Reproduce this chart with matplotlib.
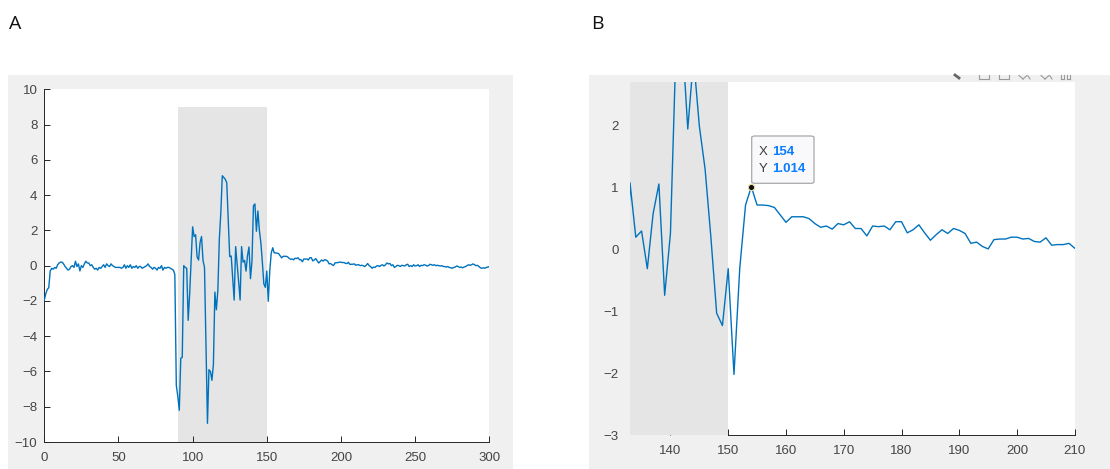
import matplotlib
matplotlib.use("Agg")
import matplotlib.pyplot as plt
from matplotlib.patches import Rectangle, FancyBboxPatch
from matplotlib.lines import Line2D

# ---------------- data ----------------
x_vals = list(range(0, 301))
y_vals = [
    -1.95, -1.6, -1.35, -1.25, -0.3, -0.15, -0.2, -0.1, -0.15, 0.05,
    0.15, 0.2, 0.2, 0.1, -0.05, -0.15, -0.25, -0.2, -0.05, 0.0,
    -0.1, 0.25, -0.05, 0.1, -0.3, 0.0, -0.1, 0.1, 0.25, 0.15,
    0.15, 0.0, 0.05, -0.1, -0.2, -0.15, -0.25, -0.1, -0.15, -0.05,
    0.05, -0.1, 0.1, 0.0, -0.05, 0.1, 0.0, -0.05, -0.1, -0.1,
    -0.1, -0.1, -0.15, -0.1, 0.05, -0.15, 0.0, -0.1, 0.05, -0.15,
    -0.05, -0.1, 0.0, -0.15, -0.05, -0.05, -0.15, -0.1, -0.05, 0.0,
    0.1, -0.05, -0.1, -0.2, -0.1, -0.15, -0.25, -0.1, -0.15, 0.0,
    -0.25, -0.1, -0.15, -0.1, -0.1, -0.15, -0.2, -0.25, -0.5, -6.8,
    -7.4, -8.2, -5.25, -5.2, 0.0, -0.1, -0.15, -3.1, -1.6, 0.3,
    2.2, 1.65, 1.75, 0.5, 0.32, 1.3, 1.65, 0.3, -0.1, -4.5,
    -8.94, -5.9, -6.0, -6.5, -5.6, -1.5, -2.5, -1.4, 1.5, 3.0,
    5.1, 5.0, 4.9, 4.7, 2.6, 0.51, 0.55, -0.7, -1.95, 1.08,
    0.1, -0.9, -1.95, 1.08, 0.2, 0.3, -0.31, 0.58, 1.06, -0.74,
    0.26, 3.4, 3.5, 1.95, 3.1, 2.0, 1.3, 0.2, -1.03, -1.23,
    -0.31, -2.02, -0.3, 0.72, 1.014, 0.72, 0.72, 0.71, 0.68, 0.56,
    0.44, 0.53, 0.53, 0.53, 0.50, 0.42, 0.36, 0.38, 0.33, 0.42,
    0.40, 0.45, 0.34, 0.34, 0.22, 0.38, 0.37, 0.38, 0.32, 0.45,
    0.45, 0.27, 0.32, 0.40, 0.27, 0.15, 0.24, 0.32, 0.26, 0.34,
    0.31, 0.26, 0.10, 0.12, 0.05, 0.01, 0.16, 0.17, 0.17, 0.20,
    0.20, 0.17, 0.18, 0.13, 0.12, 0.19, 0.07, 0.08, 0.08, 0.10,
    0.02, 0.05, 0.05, 0.0, 0.02, 0.0, -0.05, 0.02, 0.12, 0.0,
    -0.05, -0.15, -0.08, -0.1, -0.02, 0.0, -0.05, 0.02, 0.05, -0.02,
    0.05, 0.15, 0.1, 0.12, 0.0, 0.05, -0.1, -0.05, 0.02, 0.0,
    -0.05, 0.02, 0.0, -0.02, 0.05, 0.08, -0.05, 0.0, -0.05, 0.05,
    -0.02, 0.0, 0.05, -0.05, 0.02, 0.0, 0.05, 0.03, -0.02, 0.0,
    0.08, 0.05, 0.02, 0.05, 0.0, 0.02, 0.0, -0.02, 0.0, -0.05,
    -0.05, -0.08, -0.05, -0.1, -0.12, -0.15, -0.1, -0.08, -0.02, -0.05,
    -0.1, -0.08, -0.12, -0.08, -0.05, 0.0, 0.05, 0.02, 0.05, 0.1,
    0.05, 0.0, 0.02, -0.05, -0.12, -0.15, -0.12, -0.15, -0.1, -0.08,
    -0.05,
]
shade_x = [90, 150]
shade_y = [-10, 9]
tip_x = 154
tip_y = 1.014
panel_labels = ["A", "B"]
xticks_A = [0, 50, 100, 150, 200, 250, 300]
yticks_A = [-10, -8, -6, -4, -2, 0, 2, 4, 6, 8, 10]
xticks_B = [140, 150, 160, 170, 180, 190, 200, 210]
yticks_B = [-3, -2, -1, 0, 1, 2]

# ---------------- style ----------------
W, H = 1110, 469
LINE = "#0072BD"
FIGGREY = "#f0f0f0"
SHADE = "#e5e5e5"
AXC = "#262626"
TIPBLUE = "#0a7cff"
plt.rcParams["font.family"] = ["Liberation Sans", "DejaVu Sans"]

fig = plt.figure(figsize=(W / 100, H / 100), dpi=100, facecolor="white")

def fx(px):
    return px / W

def fy(py):
    return 1 - py / H

# grey panel backgrounds (behind the axes)
fig.patches.append(Rectangle((fx(8), 0), fx(513) - fx(8), fy(75), transform=fig.transFigure,
                             facecolor=FIGGREY, edgecolor="none", zorder=-5))
fig.patches.append(Rectangle((fx(589), 0), 1 - fx(589), fy(75), transform=fig.transFigure,
                             facecolor=FIGGREY, edgecolor="none", zorder=-5))

def style_axes(ax):
    ax.set_facecolor("white")
    for s in ["top", "right"]:
        ax.spines[s].set_visible(False)
    for s in ["left", "bottom"]:
        ax.spines[s].set_color(AXC)
        ax.spines[s].set_linewidth(0.7)
    ax.tick_params(direction="in", length=4, width=0.7, colors=AXC, labelsize=9.5,
                   labelcolor="#454545")
    ax.tick_params(axis="x", pad=7)
    ax.tick_params(axis="y", pad=5)

# ---------------- Panel A ----------------
axA = fig.add_axes([fx(44.3), fy(442), fx(489.3) - fx(44.3), fy(89.3) - fy(442)])
style_axes(axA)
axA.fill_between(shade_x, shade_y[0], shade_y[1], color=SHADE, linewidth=0, zorder=1)
axA.plot(x_vals, y_vals, color=LINE, linewidth=1.0, zorder=3)
axA.set_xlim(0, 300)
axA.set_ylim(-10, 10)
axA.set_xticks(xticks_A)
axA.set_yticks(yticks_A)
axA.set_axisbelow(False)

# ---------------- Panel B ----------------
axB = fig.add_axes([fx(630), fy(435), fx(1075) - fx(630), fy(82) - fy(435)])
style_axes(axB)
axB.fill_between(shade_x, shade_y[0], shade_y[1], color=SHADE, linewidth=0, zorder=2.6)
axB.plot(x_vals, y_vals, color=LINE, linewidth=1.0, zorder=3)
axB.set_xlim(133, 210.03)
axB.set_ylim(-3, 2.71)
axB.set_xticks(xticks_B)
axB.set_yticks(yticks_B)
axB.spines["left"].set_visible(False)
axB.spines["bottom"].set_bounds(150, 210.03)
axB.tick_params(axis="y", length=0, pad=8)
axB.plot([tip_x], [tip_y], "o", ms=4.5, mfc="#111111", mec="#e8e0a0", mew=0.8, zorder=5,
         clip_on=False)

# data tip box
box = FancyBboxPatch((fx(751.7), fy(183.3)), fx(814) - fx(751.7), fy(136) - fy(183.3),
                     boxstyle="round,pad=0,rounding_size=0.003", transform=fig.transFigure,
                     facecolor="#f9f9fc", edgecolor="#a8a8a8", linewidth=0.9, zorder=10)
fig.patches.append(box)
fig.text(fx(758.5), fy(152), "X", fontsize=9.5, color="#3c3c3c", va="center", ha="left", zorder=11)
fig.text(fx(772.5), fy(152), str(tip_x), fontsize=9.5, color=TIPBLUE, va="center", ha="left",
         fontweight="bold", zorder=11)
fig.text(fx(758.5), fy(169.5), "Y", fontsize=9.5, color="#3c3c3c", va="center", ha="left", zorder=11)
fig.text(fx(772.5), fy(169.5), f"{tip_y:.3f}", fontsize=9.5, color=TIPBLUE, va="center", ha="left",
         fontweight="bold", zorder=11)

# partial toolbar icons peeking at the top of panel B
icon_col = "#9a9a9a"
def seg(x0, y0, x1, y1, lw=0.8, c=icon_col):
    fig.lines.append(Line2D([fx(x0), fx(x1)], [fy(y0), fy(y1)], transform=fig.transFigure,
                            color=c, linewidth=lw, zorder=5))
seg(955, 75, 959, 78, lw=2.0, c="#666666")
for x0 in [979, 999]:
    seg(x0, 75, x0, 79); seg(x0 + 10, 75, x0 + 10, 79); seg(x0, 79, x0 + 10, 79)
for x0 in [1019, 1041]:
    seg(x0, 75.5, x0 + 4, 79); seg(x0 + 4, 79, x0 + 8, 75.5); seg(x0 + 9, 76, x0 + 11, 79)
for x0 in [1061, 1067]:
    seg(x0, 75, x0, 79); seg(x0 + 3, 75, x0 + 3, 79); seg(x0, 79, x0 + 3, 79)

# panel labels
fig.text(fx(9), fy(29), panel_labels[0], fontsize=14, color="#111111", ha="left", va="baseline",
         family=["Open Sans", "DejaVu Sans"])
fig.text(fx(591), fy(29), panel_labels[1], fontsize=14, color="#111111", ha="left", va="baseline",
         family=["Open Sans", "DejaVu Sans"])

fig.savefig("out.png", dpi=100, facecolor="white")
